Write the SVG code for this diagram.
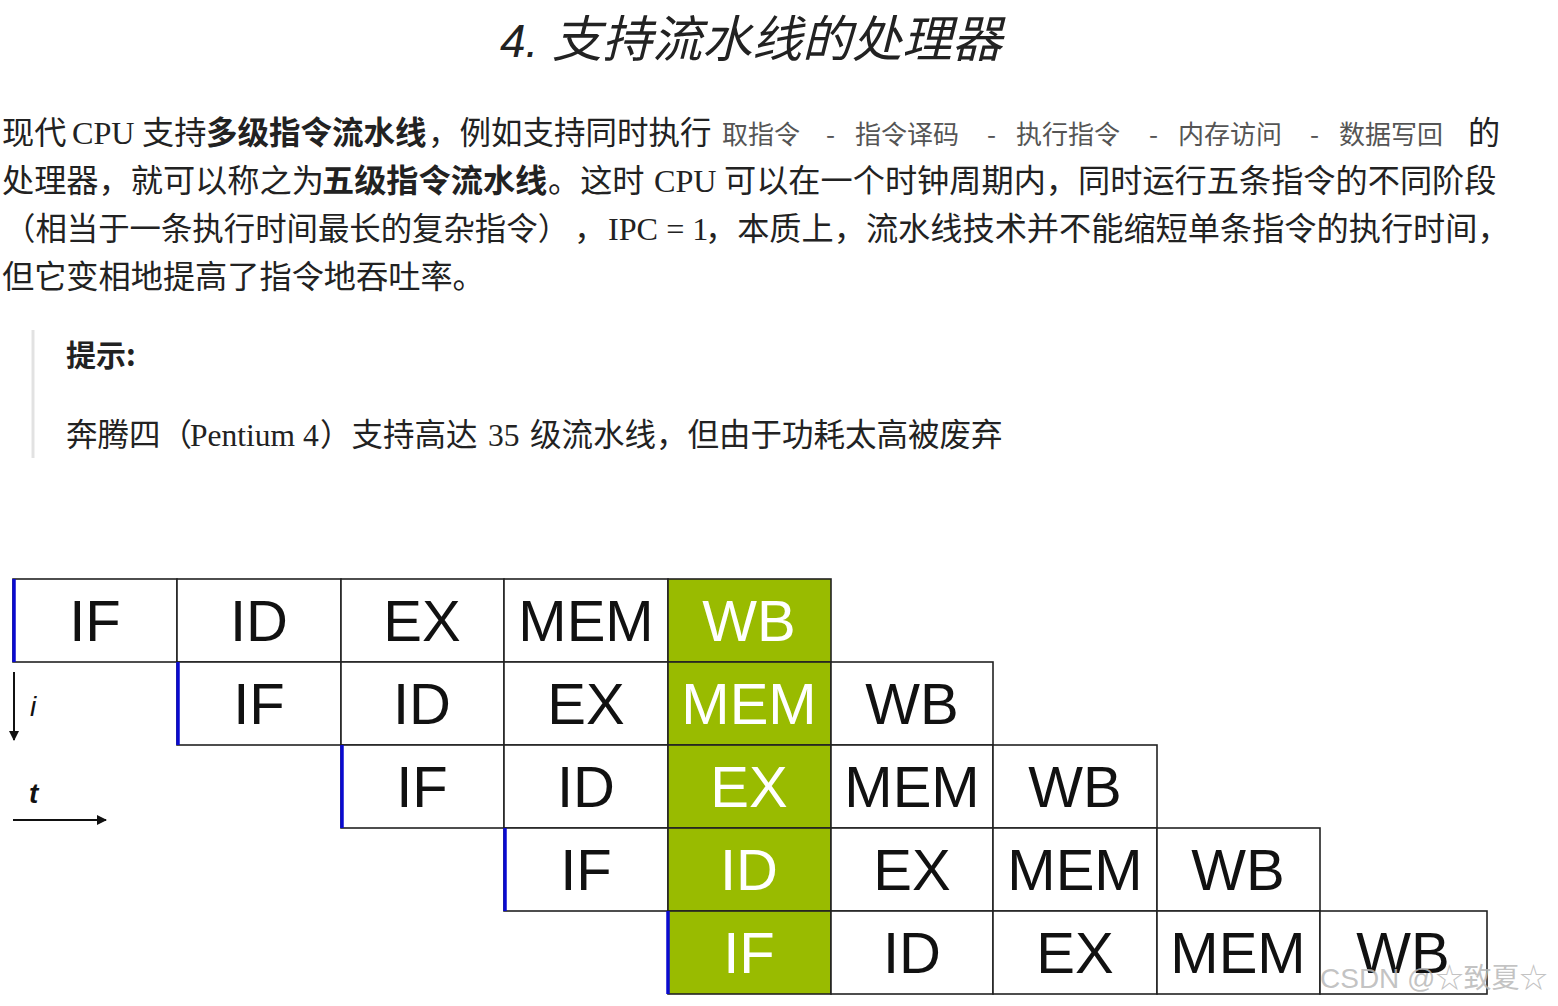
<svg xmlns="http://www.w3.org/2000/svg" width="1558" height="1006" viewBox="0 0 1558 1006">
<defs>
<style>
.cjk{font-family:"Noto Sans CJK SC","Liberation Sans",sans-serif;fill:#222;}
.p{font-size:32.2px;}
.b{font-weight:bold;}
.ser{font-family:"Liberation Serif","Noto Sans CJK SC",serif;}
.g{font-size:26px;fill:#555;}
.cell{fill:#fff;stroke:#222;stroke-width:1.6;}
.hl{fill:#99bb00;stroke:#222;stroke-width:1.6;}
.lbl{font-family:"Liberation Sans",Arial,sans-serif;font-size:58px;text-anchor:middle;fill:#111;}
.wl{fill:#fff;}
.blue{stroke:#0a0ad0;stroke-width:3.5;}
.ax{stroke:#111;stroke-width:2;fill:none;}
</style>
<marker id="ah" viewBox="0 0 10 10" refX="9" refY="5" markerWidth="5" markerHeight="5" orient="auto" markerUnits="strokeWidth">
<path d="M0,0 L10,5 L0,10 z" fill="#111"/>
</marker>
</defs>
<rect width="1558" height="1006" fill="#fff"/>

<g id="title">
<text y="57" class="cjk" font-size="50" font-style="italic" fill="#2a2a2a"><tspan x="500" font-family="Liberation Sans, sans-serif" font-size="46">4.</tspan><tspan x="552">支持流水线的处理器</tspan></text>
</g>

<g id="paragraph">
<text y="144" class="cjk p"><tspan x="2">现代</tspan><tspan x="72" class="ser">CPU</tspan><tspan x="142">支持</tspan><tspan x="206" class="b" font-size="31.5">多级指令流水线</tspan><tspan x="428" font-size="31.5">，例如支持同时执行</tspan><tspan x="722" class="g">取指令</tspan><tspan x="826" class="g">-</tspan><tspan x="855" class="g">指令译码</tspan><tspan x="987" class="g">-</tspan><tspan x="1016" class="g">执行指令</tspan><tspan x="1149" class="g">-</tspan><tspan x="1178" class="g">内存访问</tspan><tspan x="1310" class="g">-</tspan><tspan x="1339" class="g">数据写回</tspan><tspan x="1468">的</tspan></text>
<text y="192" class="cjk p"><tspan x="2">处理器，就可以称之为</tspan><tspan x="322" class="b">五级指令流水线</tspan><tspan x="548">。这时</tspan><tspan x="654" class="ser">CPU</tspan><tspan x="724">可以在一个时钟周期内，同时运行五条指令的不同阶段</tspan></text>
<text y="240" class="cjk p"><tspan x="4" font-size="31.4">（相当于一条执行时间最长的复杂指令）</tspan><tspan x="574">，</tspan><tspan x="608" class="ser">IPC = 1</tspan><tspan x="705">，本质上，流水线技术并不能缩短单条指令的执行时间，</tspan></text>
<text y="288" x="2" class="cjk p">但它变相地提高了指令地吞吐率。</text>
</g>

<g id="hint">
<line x1="33" y1="330" x2="33" y2="458" stroke="#e2e2e2" stroke-width="3"/>
<text x="66" y="366" class="cjk b" font-size="30">提示:</text>
<text y="446" class="cjk" font-size="31.5"><tspan x="66">奔腾四（</tspan><tspan x="190" class="ser">Pentium 4</tspan><tspan x="320">）支持高达</tspan><tspan x="488" class="ser">35</tspan><tspan x="530">级流水线，但由于功耗太高被废弃</tspan></text>
</g>

<g id="row1">
<rect class="cell" x="13" y="579" width="164" height="83"/><text class="lbl" x="95" y="641">IF</text>
<rect class="cell" x="177" y="579" width="164" height="83"/><text class="lbl" x="259" y="641">ID</text>
<rect class="cell" x="341" y="579" width="163" height="83"/><text class="lbl" x="422" y="641">EX</text>
<rect class="cell" x="504" y="579" width="164" height="83"/><text class="lbl" x="586" y="641">MEM</text>
<rect class="hl" x="668" y="579" width="163" height="83"/><text class="lbl wl" x="749" y="641">WB</text>
<line class="blue" x1="14" y1="579" x2="14" y2="662"/>
</g>
<g id="row2">
<rect class="cell" x="177" y="662" width="164" height="83"/><text class="lbl" x="259" y="724">IF</text>
<rect class="cell" x="341" y="662" width="163" height="83"/><text class="lbl" x="422" y="724">ID</text>
<rect class="cell" x="504" y="662" width="164" height="83"/><text class="lbl" x="586" y="724">EX</text>
<rect class="hl" x="668" y="662" width="163" height="83"/><text class="lbl wl" x="749" y="724">MEM</text>
<rect class="cell" x="831" y="662" width="162" height="83"/><text class="lbl" x="912" y="724">WB</text>
<line class="blue" x1="178" y1="662" x2="178" y2="745"/>
</g>
<g id="row3">
<rect class="cell" x="341" y="745" width="163" height="83"/><text class="lbl" x="422" y="807">IF</text>
<rect class="cell" x="504" y="745" width="164" height="83"/><text class="lbl" x="586" y="807">ID</text>
<rect class="hl" x="668" y="745" width="163" height="83"/><text class="lbl wl" x="749" y="807">EX</text>
<rect class="cell" x="831" y="745" width="162" height="83"/><text class="lbl" x="912" y="807">MEM</text>
<rect class="cell" x="993" y="745" width="164" height="83"/><text class="lbl" x="1075" y="807">WB</text>
<line class="blue" x1="342" y1="745" x2="342" y2="828"/>
</g>
<g id="row4">
<rect class="cell" x="504" y="828" width="164" height="83"/><text class="lbl" x="586" y="890">IF</text>
<rect class="hl" x="668" y="828" width="163" height="83"/><text class="lbl wl" x="749" y="890">ID</text>
<rect class="cell" x="831" y="828" width="162" height="83"/><text class="lbl" x="912" y="890">EX</text>
<rect class="cell" x="993" y="828" width="164" height="83"/><text class="lbl" x="1075" y="890">MEM</text>
<rect class="cell" x="1157" y="828" width="163" height="83"/><text class="lbl" x="1238" y="890">WB</text>
<line class="blue" x1="505" y1="828" x2="505" y2="911"/>
</g>
<g id="row5">
<rect class="hl" x="668" y="911" width="163" height="83"/><text class="lbl wl" x="749" y="973">IF</text>
<rect class="cell" x="831" y="911" width="162" height="83"/><text class="lbl" x="912" y="973">ID</text>
<rect class="cell" x="993" y="911" width="164" height="83"/><text class="lbl" x="1075" y="973">EX</text>
<rect class="cell" x="1157" y="911" width="163" height="83"/><text class="lbl" x="1238" y="973">MEM</text>
<rect class="cell" x="1320" y="911" width="167" height="83"/><text class="lbl" x="1403" y="973">WB</text>
<line class="blue" x1="668" y1="911" x2="668" y2="994"/>
</g>

<g id="connectors">
<line class="ax" x1="14" y1="672" x2="14" y2="740" marker-end="url(#ah)"/>
<line class="ax" x1="13" y1="820" x2="106" y2="820" marker-end="url(#ah)"/>
</g>
<g id="axis-labels">
<text x="30" y="716" font-family="Liberation Sans, sans-serif" font-style="italic" font-size="28" fill="#111">i</text>
<text x="29" y="803" font-family="Liberation Sans, sans-serif" font-style="italic" font-weight="bold" font-size="28" fill="#111">t</text>
</g>

<g id="watermark">
<text x="1320" y="988" font-family="Liberation Sans, Noto Sans CJK SC, sans-serif" font-size="28" fill="#b8b8b8" fill-opacity="0.85">CSDN @☆致夏☆</text>
</g>
</svg>
